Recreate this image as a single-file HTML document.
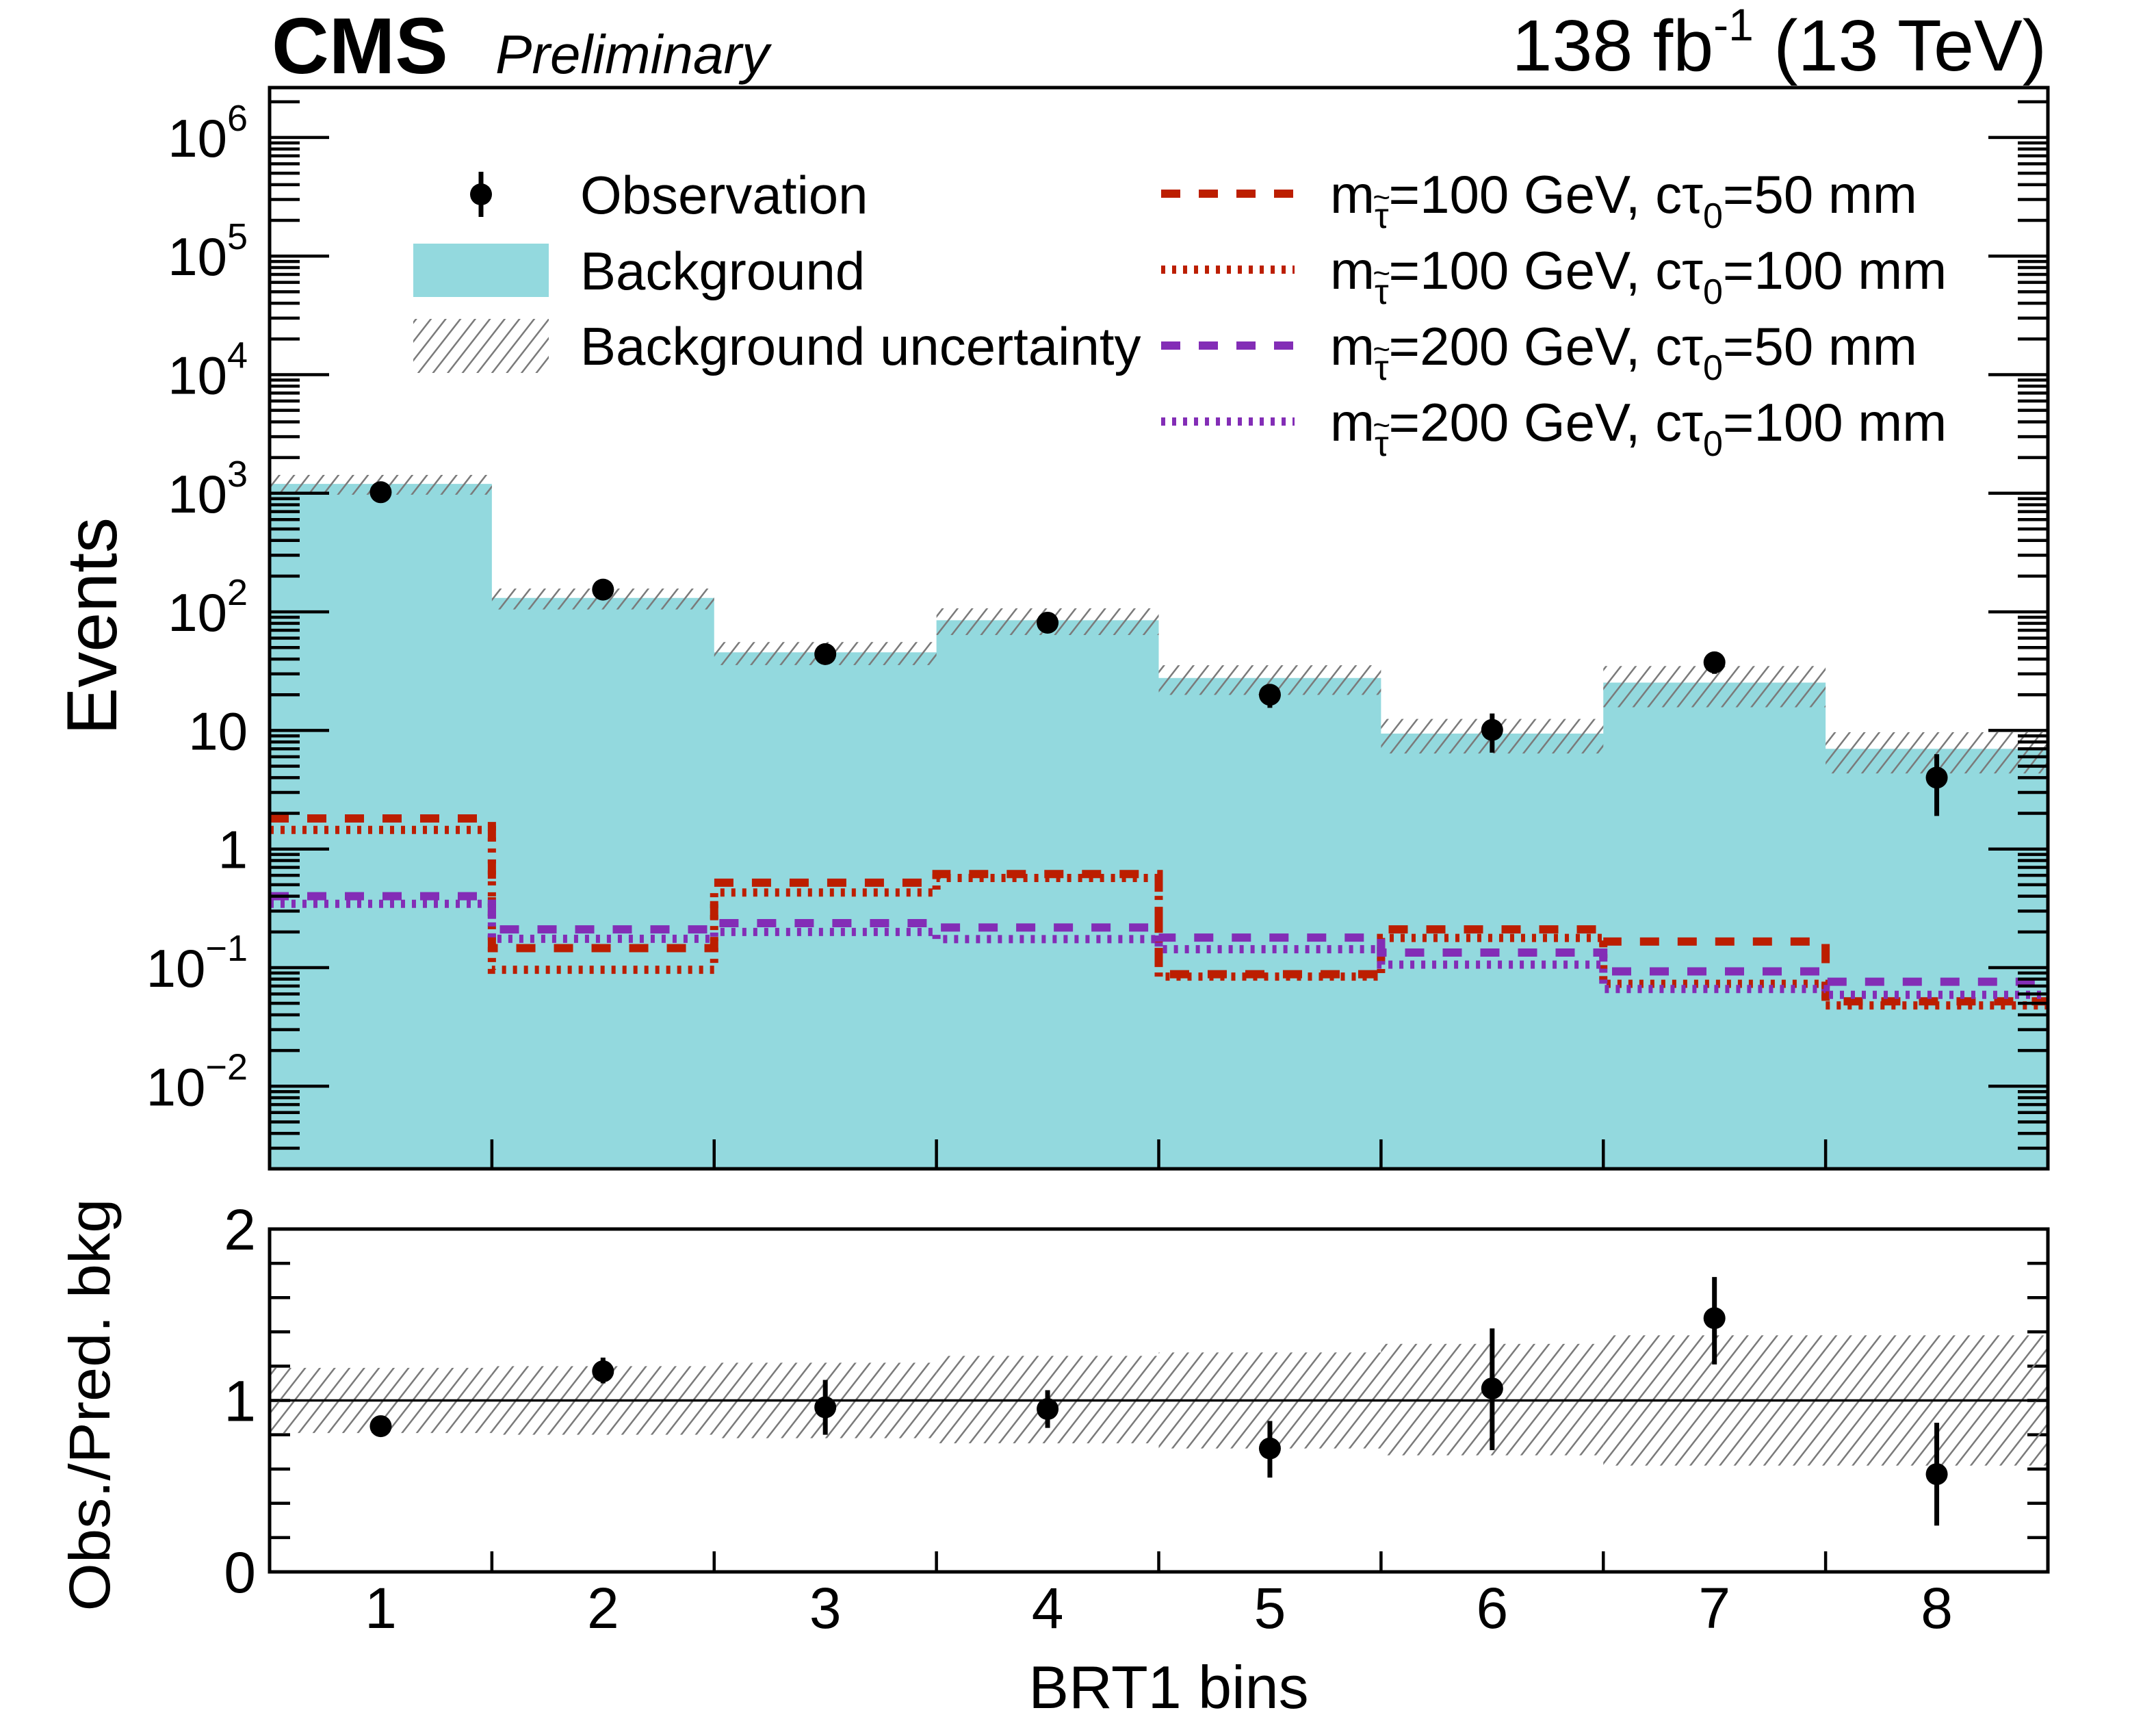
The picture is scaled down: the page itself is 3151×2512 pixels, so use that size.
<!DOCTYPE html>
<html><head><meta charset="utf-8"><style>
html,body{margin:0;padding:0;background:#fff;}
svg{display:block;font-family:"Liberation Sans",Arial,sans-serif;}
</style></head><body>
<svg id="chart" xmlns="http://www.w3.org/2000/svg" width="3151" height="2512" viewBox="0 0 3151 2512">
<defs>
<pattern id="hatch" patternUnits="userSpaceOnUse" width="17" height="17" patternTransform="rotate(38)">
<line x1="0" y1="0" x2="0" y2="17" stroke="#7a7a7a" stroke-width="5"/>
</pattern>
</defs>
<g id="mainG"></g>
<g id="ratioG"></g>
<g id="legendG"></g>
<text x="397" y="107" font-size="116" font-weight="bold">CMS</text>
<text x="724" y="107" font-size="80" font-style="italic">Preliminary</text>
<text x="2991" y="103" font-size="106" text-anchor="end">138 fb<tspan font-size="66" dy="-44">-1</tspan><tspan dy="44"> (13 TeV)</tspan></text>
<text transform="translate(170,915) rotate(-90)" font-size="104" text-anchor="middle">Events</text>
<text transform="translate(160,2053) rotate(-90)" font-size="84" text-anchor="middle" textLength="603" lengthAdjust="spacingAndGlyphs">Obs./Pred. bkg</text>
<text x="1708" y="2496" font-size="88" text-anchor="middle">BRT1 bins</text>
</svg>
<script>
const categories = [1,2,3,4,5,6,7,8];
const background = [1200,131,45.6,85,27.7,9.4,25.3,7.0];
const observed = [1020,154,44,81,20,10.1,37.5,4.0];
const obsLow = [990,142,37,72,15.5,6.5,30,1.9];
const obsHigh = [1050,167,52,90,24.5,13.9,44,6.3];
const bandLow = [0.81,0.80,0.78,0.75,0.72,0.68,0.62,0.62];
const bandHigh = [1.19,1.20,1.22,1.26,1.28,1.33,1.38,1.38];
const ratio = [0.85,1.17,0.96,0.95,0.72,1.07,1.48,0.57];
const ratioLow = [0.82,1.10,0.80,0.84,0.55,0.71,1.21,0.27];
const ratioHigh = [0.88,1.25,1.12,1.06,0.88,1.42,1.72,0.87];
const sigA = [1.81,0.146,0.52,0.615,0.088,0.21,0.166,0.052];
const sigB = [1.45,0.096,0.43,0.57,0.084,0.178,0.073,0.048];
const sigC = [0.40,0.21,0.237,0.218,0.179,0.134,0.093,0.076];
const sigD = [0.345,0.175,0.20,0.174,0.143,0.106,0.066,0.059];
const yTickExps = [-2,-1,0,1,2,3,4,5,6];
const yTickLabels = ["10|−2","10|−1","1","10","10|2","10|3","10|4","10|5","10|6"];
const ratioTicks = [0,1,2];

const NS="http://www.w3.org/2000/svg";
const L=394,R=2993,MT=128,MB=1708,RT=1796,RB=2297;
const binW=(R-L)/categories.length;
function xEdge(i){return L+binW*i;}
function xC(i){return L+binW*(i+0.5);}
function yLog(v){return 1240.7-173.3*Math.log10(v);}
function yR(r){return RB-(RB-RT)/2*r;}
function mk(tag,attrs,parent){const e=document.createElementNS(NS,tag);for(const k in attrs)e.setAttribute(k,attrs[k]);parent.appendChild(e);return e;}
const mainG=document.getElementById('mainG'),ratioG=document.getElementById('ratioG'),legG=document.getElementById('legendG');

let d=`M${L},${MB}`;
background.forEach((v,i)=>{d+=` L${xEdge(i)},${yLog(v)} L${xEdge(i+1)},${yLog(v)}`;});
d+=` L${R},${MB} Z`;
let bg=mk('path',{d:d,fill:'#93d9de'},mainG);


background.forEach((v,i)=>{
  const y1=yLog(v*bandHigh[i]),y2=yLog(v*bandLow[i]);
  const r=mk('rect',{x:xEdge(i),y:y1,width:binW,height:y2-y1,fill:'url(#hatch)'},mainG);
  
  
});
function step(arr,color,dash,name){
  let p='';
  arr.forEach((v,i)=>{p+=(i?' L':'M')+xEdge(i)+','+yLog(v)+' L'+xEdge(i+1)+','+yLog(v);});
  const e=mk('path',{d:p,fill:'none',stroke:color,'stroke-width':12,'stroke-dasharray':dash},mainG);
  
  
}
step(sigA,'#bc1e00','28 27','signal-m100-ct50');
step(sigB,'#bc1e00','6 10','signal-m100-ct100');
step(sigC,'#832db6','28 27','signal-m200-ct50');
step(sigD,'#832db6','6 10','signal-m200-ct100');
observed.forEach((v,i)=>{
  const g=mk('g',{},mainG);
  
  
  mk('line',{x1:xC(i),x2:xC(i),y1:yLog(obsHigh[i]),y2:yLog(obsLow[i]),stroke:'#000','stroke-width':7},g);
  mk('ellipse',{cx:xC(i),cy:yLog(v),rx:16,ry:16,fill:'#000'},g);
});
const mf=mk('rect',{x:L,y:MT,width:R-L,height:MB-MT,fill:'none',stroke:'#000','stroke-width':5},mainG);


let tk='';
for(let e=-3;e<=6;e++){for(let m=1;m<10;m++){const v=m*Math.pow(10,e);const y=yLog(v);if(y<MT||y>MB)continue;const len=m===1?87:44;tk+=`M${L},${y} h${len} M${R},${y} h${-len} `;}}
for(let i=1;i<categories.length;i++){tk+=`M${xEdge(i)},${MB} v-43 M${xEdge(i)},${RB} v-30 `;}
for(let k=1;k<10;k++){const y=yR(k*0.2);tk+=`M${L},${y} h30 M${R},${y} h-30 `;}
const tp=mk('path',{d:tk,stroke:'#000','stroke-width':4.5,fill:'none'},mainG);


yTickExps.forEach((e,i)=>{
  const parts=yTickLabels[i].split('|');
  const t=mk('text',{x:362,y:yLog(Math.pow(10,e))+28,'font-size':78,'text-anchor':'end'},mainG);
  
  
  if(parts.length===1){t.textContent=parts[0];}
  else{t.appendChild(document.createTextNode(parts[0]));const s=mk('tspan',{'font-size':54,dy:-38},t);s.textContent=parts[1];}
});
ratio.forEach((v,i)=>{
  const r=mk('rect',{x:xEdge(i),y:yR(bandHigh[i]),width:binW,height:yR(bandLow[i])-yR(bandHigh[i]),fill:'url(#hatch)'},ratioG);
  
  
});
const one=mk('line',{x1:L,x2:R,y1:yR(1),y2:yR(1),stroke:'#000','stroke-width':3.5},ratioG);


ratio.forEach((v,i)=>{
  const g=mk('g',{},ratioG);
  
  
  mk('line',{x1:xC(i),x2:xC(i),y1:yR(ratioHigh[i]),y2:yR(ratioLow[i]),stroke:'#000','stroke-width':7},g);
  mk('ellipse',{cx:xC(i),cy:yR(v),rx:16,ry:16,fill:'#000'},g);
});
const rf=mk('rect',{x:L,y:RT,width:R-L,height:RB-RT,fill:'none',stroke:'#000','stroke-width':5},ratioG);


ratioTicks.forEach(v=>{
  const t=mk('text',{x:374,y:yR(v)+30,'font-size':84,'text-anchor':'end'},ratioG);
  
  
  t.textContent=String(v);
});
categories.forEach((c,i)=>{
  const t=mk('text',{x:xC(i),y:2379,'font-size':84,'text-anchor':'middle'},ratioG);
  
  
  t.textContent=String(c);
});
function legText(x,y,txt,name){const t=mk('text',{x:x,y:y+28,'font-size':78},legG);t.textContent=txt;return t;}
let g=mk('g',{},legG);


mk('line',{x1:703,x2:703,y1:251,y2:317,stroke:'#000','stroke-width':7},g);
mk('ellipse',{cx:703,cy:284,rx:16,ry:16,fill:'#000'},g);
legText(848,284,'Observation','legend-observation-label');
let b=mk('rect',{x:604,y:356,width:198,height:78,fill:'#93d9de'},legG);


legText(848,395,'Background','legend-background-label');
b=mk('rect',{x:604,y:466,width:198,height:79,fill:'url(#hatch)'},legG);


legText(848,505,'Background uncertainty','legend-uncertainty-label');
const sigLeg=[['#bc1e00','28 27','100','50'],['#bc1e00','6 10','100','100'],['#832db6','28 27','200','50'],['#832db6','6 10','200','100']];
sigLeg.forEach((s,i)=>{
  const y=283+111*i;
  const ln=mk('line',{x1:1697,x2:1892,y1:y,y2:y,stroke:s[0],'stroke-width':12,'stroke-dasharray':s[1]},legG);
  
  
  const t=mk('text',{x:1944,y:y+28,'font-size':78},legG);
  
  
  t.appendChild(document.createTextNode('m'));
  let sub=mk('tspan',{'font-size':52,dy:22},t);sub.textContent='τ';
  let r=mk('tspan',{dy:-22},t);r.textContent='='+s[2]+' GeV, cτ';
  sub=mk('tspan',{'font-size':52,dy:22},t);sub.textContent='0';
  r=mk('tspan',{dy:-22},t);r.textContent='='+s[3]+' mm';
  let mW=65,tW=28;
  try{mW=t.getSubStringLength(0,1);tW=t.getSubStringLength(1,1);}catch(e){}
  const tl=mk('text',{x:1944+mW+tW/2,y:y+28+22-30,'font-size':44,'text-anchor':'middle'},legG);
  
  
  tl.textContent='~';
});
</script>
</body></html>
